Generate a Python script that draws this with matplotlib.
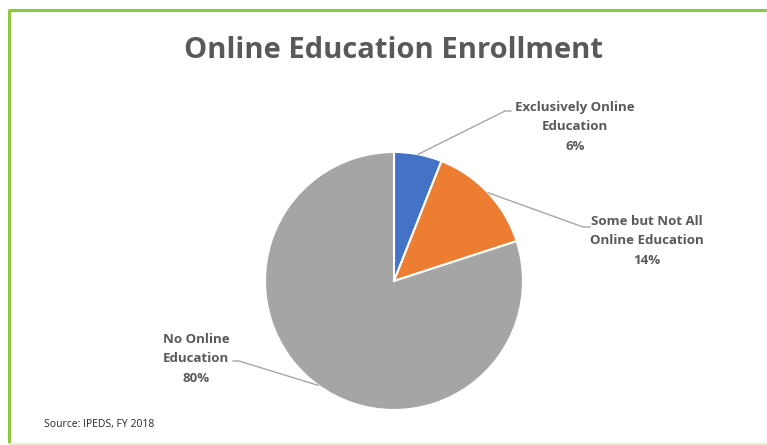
import matplotlib.pyplot as plt
import numpy as np

categories = ["Exclusively Online\nEducation", "Some but Not All\nOnline Education", "No Online\nEducation"]
shares = [6, 14, 80]
colors = ["#4472C4", "#ED7D31", "#A5A5A5"]

# label centres and leader elbow points in pixel coords (y measured from top)
label_xy = [(575, 127), (647, 241), (196, 359)]
elbow_xy = [[(505, 111), (511, 111)], [(583, 227), (590, 227)], [(239, 361), (233, 361)]]

W, H = 767, 445
fig = plt.figure(figsize=(W / 100, H / 100), dpi=100)
ax = fig.add_axes([0, 0, 1, 1])


def py(y):
    return H - y


cx, cy, r = 394, py(281), 129
wedges, _ = ax.pie(shares, colors=colors, startangle=90, counterclock=False,
                   center=(cx, cy), radius=r, frame=True,
                   wedgeprops=dict(edgecolor="white", linewidth=1.5))
ax.set_xlim(0, W)
ax.set_ylim(0, H)
ax.axis("off")

text_color = "#595959"
for w, lab, val, (lx, ly), elbow in zip(wedges, categories, shares, label_xy, elbow_xy):
    ang = np.deg2rad((w.theta1 + w.theta2) / 2)
    sx, sy = cx + r * np.cos(ang), cy + r * np.sin(ang)
    xs = [sx] + [p[0] for p in elbow]
    ys = [sy] + [py(p[1]) for p in elbow]
    ax.plot(xs, ys, color="#A6A6A6", lw=1)
    ax.text(lx, py(ly), f"{lab}\n{val}%", ha="center", va="center",
            fontsize=9.5, fontweight="bold", family="Open Sans",
            color=text_color, linespacing=1.65)

ax.text(393, py(51), "Online Education Enrollment", ha="center", va="center",
        fontsize=21, fontweight="bold", family="Open Sans", color=text_color)
ax.text(44, py(425), "Source: IPEDS, FY 2018", ha="left", va="center",
        fontsize=7.5, family="Open Sans", color="#262626")

# green frame
green = "#8DC63F"
ax.plot([8.5, 8.5], [py(10), py(443)], color=green, lw=2.2, solid_capstyle="butt")
ax.plot([7.5, W], [py(10), py(10)], color=green, lw=2.2, solid_capstyle="butt")
ax.plot([8.5, W], [py(443.5), py(443.5)], color="#E3EFCF", lw=1.5)

fig.savefig("out.png", dpi=100)
